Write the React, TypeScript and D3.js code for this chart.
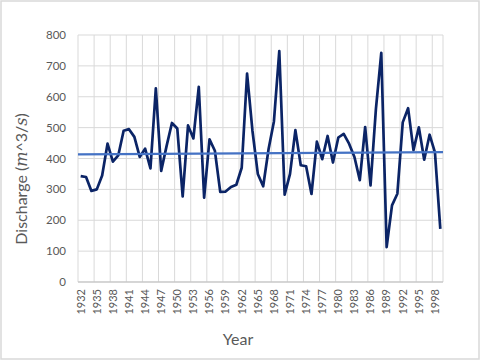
import React from "react";
import * as d3 from "d3";

const width = 480;
const height = 360;
const margin = { top: 35, right: 37, bottom: 78, left: 78 };

// years 1932..1999
const years: number[] = d3.range(1932, 2000);
const discharge: number[] = [
  343, 340, 295, 300, 345, 448, 390, 410, 490, 495,
  470, 405, 432, 368, 627, 360, 440, 515, 497, 277,
  507, 465, 632, 273, 462, 425, 292, 293, 308, 315,
  370, 675, 490, 350, 310, 430, 520, 748, 283, 350,
  492, 378, 375, 285, 455, 398, 473, 387, 468, 480,
  448, 405, 330, 502, 313, 560, 742, 113, 248, 286,
  517, 563, 427, 501, 396, 477, 420, 172
];
const yTicks: number[] = [0, 100, 200, 300, 400, 500, 600, 700, 800];
const tickYears: number[] = years.filter((_, i) => i % 3 === 0);

const font = "Lato, 'Open Sans', sans-serif";

export default function App() {
  const iw = width - margin.left - margin.right;
  const ih = height - margin.top - margin.bottom;

  const xBand = d3.scaleBand<number>().domain(years).range([0, iw]).padding(0);
  const xc = (yr: number) => (xBand(yr) as number) + xBand.bandwidth() / 2;
  const y = d3.scaleLinear().domain([0, 800]).range([ih, 0]);

  const line = d3
    .line<number>()
    .x((_, i) => xc(years[i]))
    .y(d => y(d));

  // linear trendline (least squares on index)
  const idx = discharge.map((_, i) => i + 1);
  const mx = d3.mean(idx) as number;
  const my = d3.mean(discharge) as number;
  const slope =
    d3.sum(idx, (v, i) => (v - mx) * (discharge[i] - my)) /
    d3.sum(idx, v => (v - mx) * (v - mx));
  const intercept = my - slope * mx;
  const trendY0 = y(intercept + slope * 0.5);
  const trendY1 = y(intercept + slope * (discharge.length + 0.5));

  return (
    <svg
      width={width}
      height={height}
      style={{ position: "absolute", left: 0, top: 0, background: "#fff" }}
    >
      <rect x={1} y={1} width={width - 2} height={height - 2} fill="#fff" stroke="#d9d9d9" strokeWidth={1.5} />
      <g transform={`translate(${margin.left},${margin.top})`}>
        {/* horizontal gridlines */}
        {yTicks.map(t => (
          <line key={"h" + t} x1={0} x2={iw} y1={y(t)} y2={y(t)} stroke="#d9d9d9" strokeWidth={1} />
        ))}
        {/* vertical gridlines at category boundaries every 3 years */}
        {tickYears.map(yr => (
          <line
            key={"v" + yr}
            x1={xBand(yr) as number}
            x2={xBand(yr) as number}
            y1={0}
            y2={ih}
            stroke="#d9d9d9"
            strokeWidth={1}
          />
        ))}
        <line x1={iw} x2={iw} y1={0} y2={ih} stroke="#d9d9d9" strokeWidth={1} />
        <line x1={0} x2={iw} y1={ih} y2={ih} stroke="#bfbfbf" strokeWidth={1} />

        {/* y labels */}
        {yTicks.map(t => (
          <text
            key={"yl" + t}
            x={-12}
            y={y(t)}
            dy="0.35em"
            textAnchor="end"
            fontFamily={font}
            fontSize={11.5}
            fill="#595959"
          >
            {t}
          </text>
        ))}

        {/* x labels */}
        {tickYears.map(yr => (
          <text
            key={"xl" + yr}
            transform={`translate(${xc(yr)},${ih + 7}) rotate(-90)`}
            textAnchor="end"
            dy="0.35em"
            fontFamily={font}
            fontSize={11}
            fill="#595959"
          >
            {yr}
          </text>
        ))}

        <path d={line(discharge) || ""} fill="none" stroke="#0b2466" strokeWidth={2.7} strokeLinejoin="round" />
        <line x1={0} x2={iw} y1={trendY0} y2={trendY1} stroke="#4472c4" strokeWidth={2.2} />
      </g>

      <text x={238} y={345} textAnchor="middle" fontFamily={font} fontSize={16} fill="#595959">
        Year
      </text>
      <text
        transform={`translate(27,179) rotate(-90)`}
        textAnchor="middle"
        fontFamily={font}
        fontSize={16}
        fill="#595959"
      >
        {"Discharge ("}
        <tspan fontStyle="italic" fontFamily="'DejaVu Serif', serif">m</tspan>
        {"^3/"}
        <tspan fontStyle="italic" fontFamily="'DejaVu Serif', serif">s</tspan>
        {")"}
      </text>
    </svg>
  );
}
